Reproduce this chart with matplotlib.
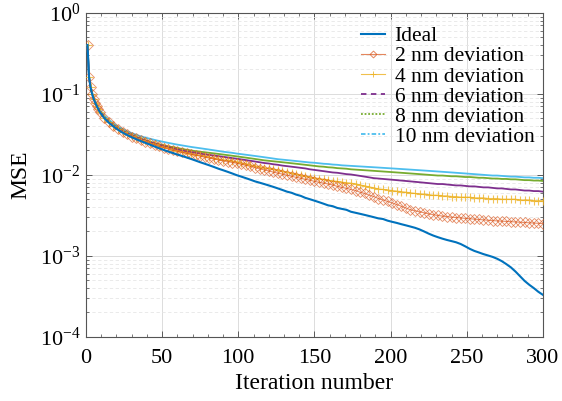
import numpy as np
import matplotlib
matplotlib.use("Agg")
import matplotlib.pyplot as plt
from matplotlib.lines import Line2D
from matplotlib.ticker import LogLocator, MultipleLocator, NullFormatter

plt.rcParams["font.family"] = ["Liberation Serif", "DejaVu Serif"]
plt.rcParams["mathtext.fontset"] = "custom"
plt.rcParams["mathtext.rm"] = "Liberation Serif"
plt.rcParams["mathtext.it"] = "Liberation Serif:italic"

# iteration grid: first nine iterations, then every third one
iterations = np.r_[1:10, 12:301:3]

mse_ideal = [
    0.40, 0.16, 0.12, 0.100, 0.087, 0.078, 0.071, 0.065, 0.060,
    0.050, 0.044, 0.0395, 0.0360, 0.0332, 0.0310, 0.0291, 0.0275, 0.0261, 0.0248,
    0.0236, 0.0224, 0.0213, 0.0203, 0.0194, 0.0186, 0.0178, 0.0171, 0.0164, 0.0157,
    0.0150, 0.0143, 0.0137, 0.0131, 0.0125, 0.0119, 0.0114, 0.0109, 0.0104, 0.0099,
    0.0095, 0.0091, 0.0087, 0.0083, 0.0080, 0.0077, 0.0074, 0.0071, 0.0068, 0.0065,
    0.0062, 0.0060, 0.0057, 0.0055, 0.0052, 0.0050, 0.0048, 0.0046, 0.0044, 0.0042,
    0.0041, 0.0039, 0.0038, 0.0037, 0.0035, 0.0034, 0.0033, 0.0032, 0.0031, 0.0030,
    0.0029, 0.00285, 0.00272, 0.00263, 0.00255, 0.00246, 0.00238, 0.00230, 0.00222, 0.00212,
    0.00200, 0.00188, 0.00178, 0.00170, 0.00163, 0.00157, 0.00152, 0.00147, 0.00140, 0.00131,
    0.00122, 0.00115, 0.00110, 0.00105, 0.00101, 0.00097, 0.00092, 0.00086, 0.00079, 0.00072,
    0.00064, 0.00056, 0.00049, 0.00044, 0.00040, 0.00036, 0.00033,
]

mse_2nm = [
    0.40, 0.16, 0.12, 0.100, 0.087, 0.078, 0.071, 0.065, 0.060,
    0.0505, 0.0445, 0.0400, 0.0365, 0.0337, 0.0315, 0.0297, 0.0281, 0.0267, 0.0255,
    0.0244, 0.0234, 0.0225, 0.0217, 0.0209, 0.0202, 0.0196, 0.0190, 0.0185, 0.0180,
    0.0175, 0.0170, 0.0165, 0.0161, 0.0157, 0.0153, 0.0149, 0.0146, 0.0142, 0.0139,
    0.0135, 0.0131, 0.0127, 0.0123, 0.0119, 0.0115, 0.0112, 0.0108, 0.0105, 0.0102,
    0.0099, 0.0096, 0.0093, 0.0091, 0.0088, 0.0086, 0.0083, 0.0081, 0.0079, 0.0077,
    0.0075, 0.0072, 0.0070, 0.0068, 0.0066, 0.0064, 0.0061, 0.0059, 0.0056, 0.0054,
    0.0051, 0.0049, 0.0047, 0.0045, 0.0043, 0.0041, 0.0039, 0.0037, 0.0036, 0.0035,
    0.0034, 0.0033, 0.00322, 0.00315, 0.00310, 0.00305, 0.00300, 0.00297, 0.00294, 0.00290,
    0.00287, 0.00284, 0.00281, 0.00278, 0.00275, 0.00272, 0.00270, 0.00268, 0.00266, 0.00264,
    0.00262, 0.00260, 0.00258, 0.00256, 0.00254, 0.00252, 0.00250,
]

mse_4nm = [
    0.40, 0.16, 0.12, 0.100, 0.087, 0.078, 0.071, 0.065, 0.060,
    0.051, 0.045, 0.0405, 0.0370, 0.0342, 0.0319, 0.0300, 0.0284, 0.0270, 0.0258,
    0.0247, 0.0237, 0.0228, 0.0220, 0.0212, 0.0205, 0.0199, 0.0193, 0.0188, 0.0183,
    0.0178, 0.0174, 0.0169, 0.0165, 0.0161, 0.0157, 0.0154, 0.0151, 0.0148, 0.0145,
    0.0141, 0.0137, 0.0133, 0.0129, 0.0126, 0.0123, 0.0120, 0.0117, 0.0114, 0.0111,
    0.0108, 0.0105, 0.0102, 0.0099, 0.0097, 0.0094, 0.0092, 0.0090, 0.0088, 0.0086,
    0.0084, 0.0083, 0.0081, 0.0080, 0.0079, 0.0077, 0.0075, 0.0073, 0.0071, 0.0069,
    0.0067, 0.0066, 0.0065, 0.0064, 0.0063, 0.0062, 0.0061, 0.0060, 0.0059, 0.0058,
    0.0058, 0.0057, 0.0056, 0.0056, 0.0055, 0.0055, 0.0054, 0.0054, 0.0053, 0.0053,
    0.0053, 0.0052, 0.0052, 0.0052, 0.0051, 0.0051, 0.0051, 0.0050, 0.0050, 0.0050,
    0.0050, 0.0049, 0.0049, 0.0049, 0.0048, 0.0048, 0.0048,
]

mse_6nm = [
    0.40, 0.16, 0.121, 0.101, 0.088, 0.079, 0.072, 0.066, 0.061,
    0.051, 0.045, 0.0408, 0.0374, 0.0347, 0.0325, 0.0306, 0.0290, 0.0276, 0.0264,
    0.0253, 0.0243, 0.0234, 0.0226, 0.0219, 0.0212, 0.0206, 0.0200, 0.0195, 0.0191,
    0.0187, 0.0183, 0.0179, 0.0176, 0.0173, 0.0170, 0.0167, 0.0164, 0.0161, 0.0158,
    0.0155, 0.0152, 0.0149, 0.0146, 0.0143, 0.0140, 0.0138, 0.0135, 0.0133, 0.0130,
    0.0128, 0.0126, 0.0124, 0.0122, 0.0120, 0.0117, 0.0115, 0.0113, 0.0111, 0.0109,
    0.0107, 0.0106, 0.0104, 0.0102, 0.0101, 0.0099, 0.0097, 0.0095, 0.0093, 0.0091,
    0.0090, 0.0089, 0.0088, 0.0087, 0.0086, 0.0085, 0.0084, 0.0083, 0.0082, 0.0081,
    0.0080, 0.0079, 0.0078, 0.0077, 0.0077, 0.0076, 0.0075, 0.0074, 0.0074, 0.0073,
    0.0072, 0.0072, 0.0071, 0.0070, 0.0070, 0.0069, 0.0068, 0.0068, 0.0067, 0.0066,
    0.0066, 0.0065, 0.0064, 0.0064, 0.0063, 0.0063, 0.0062,
]

mse_8nm = [
    0.40, 0.16, 0.122, 0.102, 0.089, 0.080, 0.073, 0.067, 0.062,
    0.052, 0.046, 0.0415, 0.0380, 0.0352, 0.0330, 0.0311, 0.0295, 0.0281, 0.0268,
    0.0257, 0.0247, 0.0239, 0.0231, 0.0224, 0.0220, 0.0214, 0.0209, 0.0204, 0.0200,
    0.0196, 0.0193, 0.0190, 0.0187, 0.0184, 0.0181, 0.0178, 0.0175, 0.0172, 0.0169,
    0.0166, 0.0163, 0.0160, 0.0157, 0.0154, 0.0151, 0.0149, 0.0147, 0.0145, 0.0143,
    0.0141, 0.0139, 0.0137, 0.0135, 0.0133, 0.0131, 0.0129, 0.0127, 0.0126, 0.0124,
    0.0123, 0.0121, 0.0120, 0.0119, 0.0117, 0.0116, 0.0115, 0.0114, 0.0113, 0.0112,
    0.0111, 0.0110, 0.0109, 0.0108, 0.0107, 0.0106, 0.0105, 0.0104, 0.0103, 0.0102,
    0.0101, 0.0100, 0.0099, 0.0098, 0.0098, 0.0097, 0.0096, 0.0096, 0.0095, 0.0094,
    0.0094, 0.0093, 0.0092, 0.0092, 0.0091, 0.0090, 0.0090, 0.0089, 0.0089, 0.0088,
    0.0088, 0.0087, 0.0086, 0.0086, 0.0085, 0.0085, 0.0084,
]

mse_10nm = [
    0.40, 0.165, 0.125, 0.104, 0.091, 0.082, 0.075, 0.069, 0.064,
    0.054, 0.048, 0.043, 0.0395, 0.0368, 0.0345, 0.0327, 0.0312, 0.0299, 0.0288,
    0.0279, 0.0270, 0.0262, 0.0255, 0.0248, 0.0242, 0.0236, 0.0231, 0.0226, 0.0221,
    0.0217, 0.0213, 0.0209, 0.0205, 0.0201, 0.0197, 0.0193, 0.0190, 0.0187, 0.0183,
    0.0180, 0.0177, 0.0174, 0.0171, 0.0168, 0.0165, 0.0162, 0.0159, 0.0156, 0.0154,
    0.0152, 0.0150, 0.0148, 0.0146, 0.0144, 0.0142, 0.0141, 0.0139, 0.0137, 0.0136,
    0.0134, 0.0133, 0.0131, 0.0130, 0.0129, 0.0128, 0.0127, 0.0126, 0.0125, 0.0124,
    0.0123, 0.0122, 0.0121, 0.0120, 0.0119, 0.0118, 0.0117, 0.0116, 0.0115, 0.0114,
    0.0113, 0.0112, 0.0111, 0.0110, 0.0109, 0.0108, 0.0107, 0.0106, 0.0105, 0.0104,
    0.0103, 0.0102, 0.0101, 0.0100, 0.0099, 0.0098, 0.0098, 0.0097, 0.0096, 0.0095,
    0.0095, 0.0094, 0.0093, 0.0093, 0.0092, 0.0092, 0.0091,
]

labels = ["Ideal", "2 nm deviation", "4 nm deviation",
          "6 nm deviation", "8 nm deviation", "10 nm deviation"]
x_ticks = [0, 50, 100, 150, 200, 250, 300]

c_blue = "#0072BD"
c_orange = "#D95319"
c_yellow = "#EDB120"
c_purple = "#7E2F8E"
c_green = "#77AC30"
c_cyan = "#4DBEEE"

fig = plt.figure(figsize=(5.62, 4.01), dpi=100)
ax = fig.add_axes([0.153, 0.160, 0.813, 0.808])

ax.plot(iterations, mse_10nm, color=c_cyan, lw=1.3, zorder=3)
ax.plot(iterations, mse_8nm, color=c_green, lw=1.3, zorder=3)
ax.plot(iterations, mse_6nm, color=c_purple, lw=1.3, zorder=3)
ax.plot(iterations, mse_4nm, color=c_yellow, lw=0.8, alpha=0.75,
        marker="+", ms=6, mew=0.8, zorder=3)
ax.plot(iterations, mse_2nm, color=c_orange, lw=0.8, alpha=0.65,
        marker="D", ms=5.5, mew=0.6, mfc="none", zorder=3)
ax.plot(iterations, mse_ideal, color=c_blue, lw=1.5, zorder=4)

ax.set_yscale("log")
ax.set_xlim(0, 300)
ax.set_ylim(1e-4, 1)
ax.set_xticks(x_ticks)
ax.xaxis.set_minor_locator(MultipleLocator(10))
ax.yaxis.set_major_locator(LogLocator(base=10, numticks=10))
ax.yaxis.set_minor_locator(LogLocator(base=10, subs=np.arange(2, 10), numticks=20))
ax.yaxis.set_minor_formatter(NullFormatter())

ax.grid(True, which="major", color="#dcdcdc", lw=0.7)
ax.grid(True, which="minor", axis="y", color="#e6e6e6", lw=0.6, ls=(0, (4, 3)))
ax.set_axisbelow(True)

ax.tick_params(which="both", direction="in", top=True, right=True,
               labelsize=16, color="#444444")
ax.tick_params(which="major", length=4, width=0.6, pad=4)
ax.tick_params(axis="x", which="major", pad=9)
ax.tick_params(which="minor", length=2, width=0.5)
for s in ax.spines.values():
    s.set_color("#555555")
    s.set_linewidth(0.8)

ax.set_xlabel("Iteration number", fontsize=17, labelpad=3)
ax.set_ylabel("MSE", fontsize=17, labelpad=6)

handles = [
    Line2D([], [], color=c_blue, lw=1.5),
    Line2D([], [], color=c_orange, lw=0.8, alpha=0.7, marker="D", ms=3.5,
           mew=0.7, mfc="none"),
    Line2D([], [], color=c_yellow, lw=0.8, alpha=0.8, marker="+", ms=5, mew=0.7),
    Line2D([], [], color=c_purple, lw=1.3, ls=(0, (3, 2.5))),
    Line2D([], [], color=c_green, lw=1.3, ls=(0, (1, 1))),
    Line2D([], [], color=c_cyan, lw=1.3, ls=(0, (2.5, 1.2, 1, 1.2))),
]
ax.legend(handles, labels, loc="upper right", frameon=False, fontsize=15.5,
          handlelength=1.1, handletextpad=0.45, labelspacing=0.0,
          borderaxespad=0.0, bbox_to_anchor=(1.0, 0.985))

fig.savefig("out.png", dpi=100)
